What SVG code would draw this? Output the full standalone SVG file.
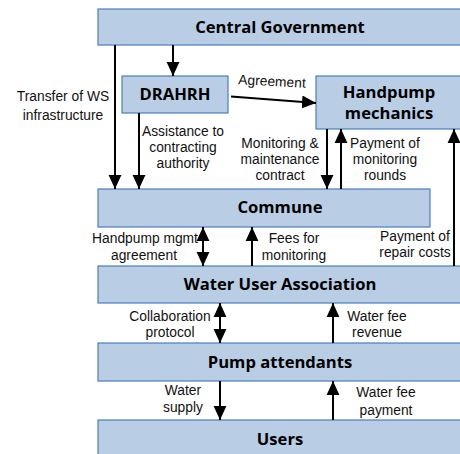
<svg xmlns="http://www.w3.org/2000/svg" width="460" height="454" viewBox="0 0 460 454">
<defs>
<style>
.box{fill:#b9cde5;stroke:#4a7ebb;stroke-width:1.2}
.title{font-family:"Open Sans","Liberation Sans",sans-serif;font-weight:bold;font-size:16.6px;fill:#000;text-anchor:middle}
.lbl{font-family:"Liberation Sans",Arial,sans-serif;font-size:13.8px;fill:#111;text-anchor:middle}
.ar{stroke:#000;stroke-width:2;fill:none;marker-end:url(#ah)}
.dar{stroke:#000;stroke-width:2;fill:none;marker-end:url(#ah);marker-start:url(#ah)}
</style>
<marker id="ah" markerUnits="userSpaceOnUse" markerWidth="14" markerHeight="14" viewBox="0 0 12 12" refX="12" refY="6" orient="auto-start-reverse">
<path d="M0,0.5 L12,6 L0,11.5 Z" fill="#000"/>
</marker>
</defs>
<rect width="460" height="454" fill="#fff"/>
<g id="central-government">
<rect class="box" x="98" y="9" width="366" height="36"/>
<text class="title" x="280" y="33">Central Government</text>
</g>
<g id="drahrh">
<rect class="box" x="122" y="76" width="106" height="37"/>
<text class="title" x="175" y="100">DRAHRH</text>
</g>
<g id="handpump-mechanics">
<rect class="box" x="316" y="76" width="148" height="53"/>
<text class="title" x="389" y="98">Handpump</text>
<text class="title" x="389" y="119">mechanics</text>
</g>
<g id="commune">
<rect class="box" x="98" y="189" width="332" height="38"/>
<text class="title" x="280" y="213">Commune</text>
</g>
<g id="water-user-association">
<rect class="box" x="98" y="266" width="366" height="37"/>
<text class="title" x="280" y="290">Water User Association</text>
</g>
<g id="pump-attendants">
<rect class="box" x="98" y="343" width="366" height="38"/>
<text class="title" x="280" y="368">Pump attendants</text>
</g>
<g id="users">
<rect class="box" x="98" y="420" width="366" height="40"/>
<text class="title" x="280" y="445">Users</text>
</g>
<g id="connectors">
<line class="ar" x1="115" y1="45" x2="115" y2="189"/>
<line class="ar" x1="173" y1="45" x2="173" y2="76"/>
<line class="ar" x1="139" y1="113" x2="139" y2="189"/>
<line class="ar" x1="231" y1="96.5" x2="316" y2="103"/>
<line class="ar" x1="327" y1="129" x2="327" y2="189"/>
<line class="ar" x1="341" y1="189" x2="341" y2="129"/>
<line class="ar" x1="454" y1="266" x2="454" y2="129"/>
<line class="dar" x1="203" y1="227" x2="203" y2="266"/>
<line class="ar" x1="252" y1="266" x2="252" y2="227"/>
<line class="dar" x1="220" y1="303" x2="220" y2="343"/>
<line class="ar" x1="333" y1="343" x2="333" y2="303"/>
<line class="ar" x1="220" y1="381" x2="220" y2="420"/>
<line class="ar" x1="333" y1="420" x2="333" y2="381"/>
</g>
<g id="labels">
<text class="lbl" x="63" y="101">Transfer of WS</text>
<text class="lbl" x="63" y="120">infrastructure</text>
<text class="lbl" x="272" y="86" transform="rotate(3 272 82)">Agreement</text>
<text class="lbl" x="183" y="136">Assistance to</text>
<text class="lbl" x="183" y="152">contracting</text>
<text class="lbl" x="183" y="168">authority</text>
<text class="lbl" x="280" y="148">Monitoring &amp;</text>
<text class="lbl" x="280" y="164">maintenance</text>
<text class="lbl" x="280" y="180">contract</text>
<text class="lbl" x="385" y="148">Payment of</text>
<text class="lbl" x="385" y="164">monitoring</text>
<text class="lbl" x="385" y="180">rounds</text>
<text class="lbl" x="145" y="243">Handpump mgmt</text>
<text class="lbl" x="144" y="260">agreement</text>
<text class="lbl" x="294" y="243">Fees for</text>
<text class="lbl" x="294" y="260">monitoring</text>
<text class="lbl" x="415" y="241">Payment of</text>
<text class="lbl" x="415" y="257">repair costs</text>
<text class="lbl" x="170" y="321">Collaboration</text>
<text class="lbl" x="170" y="337">protocol</text>
<text class="lbl" x="377" y="321">Water fee</text>
<text class="lbl" x="377" y="337">revenue</text>
<text class="lbl" x="183" y="395">Water</text>
<text class="lbl" x="183" y="412">supply</text>
<text class="lbl" x="386" y="397">Water fee</text>
<text class="lbl" x="386" y="415">payment</text>
</g>
</svg>
